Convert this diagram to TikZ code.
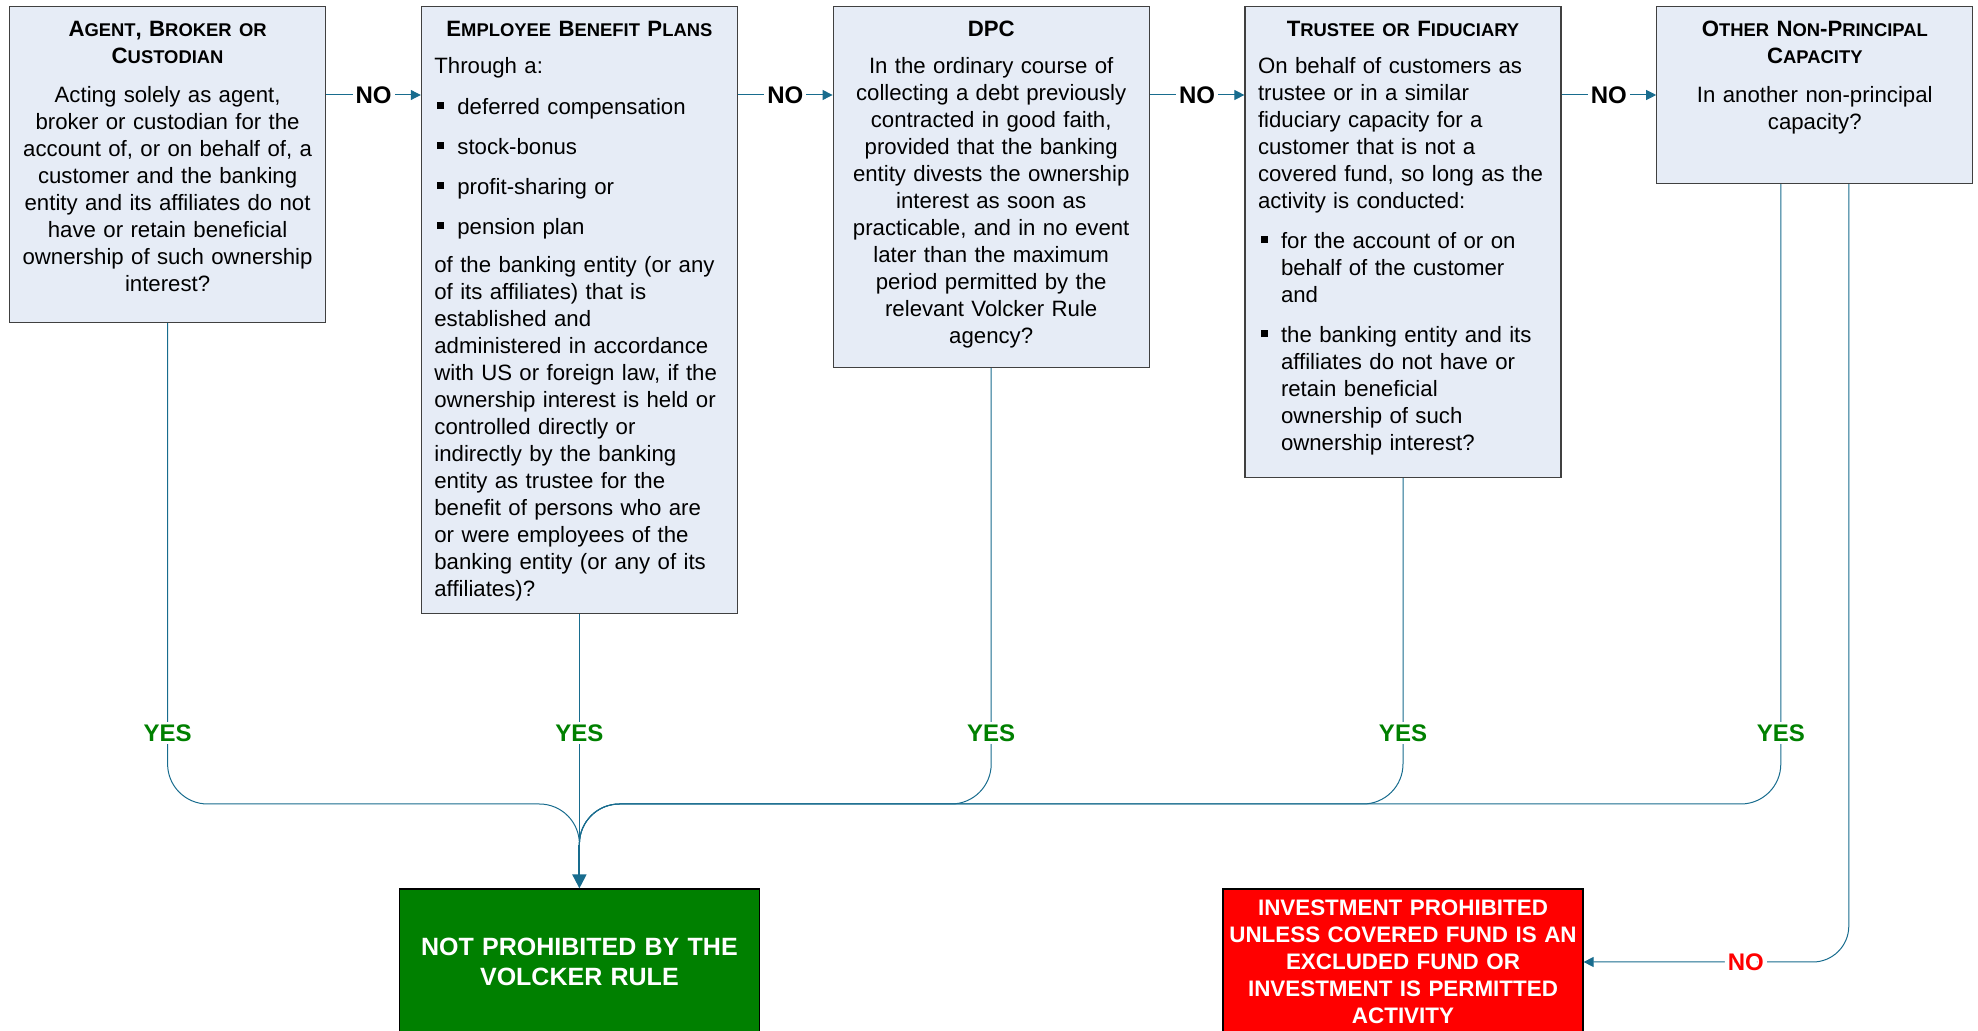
\documentclass[tikz,border=0pt]{standalone}
\usepackage{fontspec}
\setmainfont{Liberation Sans}
\usepackage{tikz}
\usetikzlibrary{positioning,arrows.meta}
\definecolor{conn}{RGB}{24,108,142}
\definecolor{boxfill}{RGB}{230,236,246}
\definecolor{okgreen}{RGB}{0,128,0}
\definecolor{nored}{RGB}{255,0,0}
\newcommand{\sm}[1]{{\fontsize{9.2pt}{13.5pt}\selectfont #1}}
\newcommand{\bul}{\noindent\hangindent=11.5pt\hangafter=1\makebox[11.5pt][l]{\hspace{1.25pt}\rule[2.75pt]{3.5pt}{3.5pt}}}
\tikzstyle{arrow} = [conn, line width=0.5pt, -{Triangle[length=5pt,width=5pt]}]
\tikzstyle{conline} = [conn, line width=0.5pt, rounded corners=20pt]

\begin{document}
\begin{tikzpicture}[node distance=47.3pt]
	\tikzstyle{qbox} = [rectangle, draw=black!75, line width=0.6pt, fill=boxfill, align=center, text width=148pt, inner xsep=5pt, inner ysep=6pt, text height=9pt, font=\fontsize{11.1pt}{13.5pt}\selectfont];
	\tikzstyle{lbox} = [qbox, align=left, text width=145pt, inner xsep=6.5pt];
	\tikzstyle{endbox} = [rectangle, draw=black, line width=0.6pt, text=white, align=center, minimum width=180pt, minimum height=73pt, text width=176pt, inner xsep=2pt, inner ysep=0pt, font=\bfseries\fontsize{11.2pt}{13.5pt}\selectfont];
	\tikzstyle{nolbl} = [fill=white, text=black, inner sep=1.5pt, font=\bfseries\fontsize{12pt}{14pt}\selectfont];
	\tikzstyle{yeslbl} = [nolbl, text=okgreen];
	\useasboundingbox (0,0) rectangle (989pt,-515.5pt);
	\coordinate (yesrow) at (0,-366.5pt);
	\coordinate (endrow) at (0,-481pt);

	% question boxes
	\node (agent) [qbox, text depth=137pt, anchor=north west] at (4.5pt,-3pt) {\textbf{A\sm{GENT}, B\sm{ROKER OR}}\\
		\textbf{C\sm{USTODIAN}}\\[6.2pt]
		Acting solely as agent,\\ broker or custodian for the\\ account of, or on behalf of, a\\ customer and the banking\\ entity and its affiliates do not\\ have or retain beneficial\\ ownership of such ownership\\ interest?};
	\node (ebp) [lbox, text depth=282.5pt, right=of agent.north east, anchor=north west] {{\centering\textbf{E\sm{MPLOYEE} B\sm{ENEFIT} P\sm{LANS}}\par}\vspace{5pt}
		Through a:\\[7pt]
		\bul deferred compensation\\[6.5pt]
		\bul stock-bonus\\[6.5pt]
		\bul profit-sharing or\\[6.5pt]
		\bul pension plan\\[5.5pt]
		of the banking entity (or any\\ of its affiliates) that is\\ established and\\ administered in accordance\\ with US or foreign law, if the\\ ownership interest is held or\\ controlled directly or\\ indirectly by the banking\\ entity as trustee for the\\ benefit of persons who are\\ or were employees of the\\ banking entity (or any of its\\ affiliates)?};
	\node (dpc) [qbox, text depth=159.5pt, right=of ebp.north east, anchor=north west] {\textbf{DPC}\\[5pt]
		In the ordinary course of\\ collecting a debt previously\\ contracted in good faith,\\ provided that the banking\\ entity divests the ownership\\ interest as soon as\\ practicable, and in no event\\ later than the maximum\\ period permitted by the\\ relevant Volcker Rule\\ agency?};
	\node (trustee) [lbox, text depth=214.5pt, right=of dpc.north east, anchor=north west] {{\centering\textbf{T\sm{RUSTEE OR} F\sm{IDUCIARY}}\par}\vspace{5pt}
		On behalf of customers as\\ trustee or in a similar\\ fiduciary capacity for a\\ customer that is not a\\ covered fund, so long as the\\ activity is conducted:\\[6.5pt]
		\bul for the account of or on\newline behalf of the customer\newline and\\[6.5pt]
		\bul the banking entity and its\newline affiliates do not have or\newline retain beneficial\newline ownership of such\newline ownership interest?\par};
	\node (other) [qbox, text depth=67.5pt, right=of trustee.north east, anchor=north west] {\textbf{O\sm{THER} N\sm{ON}-P\sm{RINCIPAL}}\\
		\textbf{C\sm{APACITY}}\\[6.2pt]
		In another non-principal\\ capacity?};

	% outcomes
	\node (notprohib) [endbox, fill=okgreen, font=\bfseries\fontsize{12.5pt}{15pt}\selectfont] at (ebp.south |- endrow) {NOT PROHIBITED BY THE\\ VOLCKER RULE};
	\node (prohib) [endbox, fill=nored] at (trustee.south |- endrow) {INVESTMENT PROHIBITED\\ UNLESS COVERED FUND IS AN\\ EXCLUDED FUND OR\\ INVESTMENT IS PERMITTED\\ ACTIVITY};

	\coordinate (hub) at (ebp.south |- 0,-402pt);
	\coordinate (join) at (ebp.south |- 0,-422.5pt);
	\coordinate (otheryes) at ([xshift=-17pt]other.south);
	\coordinate (otherno) at ([xshift=17pt]other.south);

	% NO chain
	\draw [arrow] ([yshift=-44.5pt]agent.north east) -- node[nolbl] (no1) {NO} ([yshift=-44.5pt]ebp.north west);
	\draw [arrow] ([yshift=-44.5pt]ebp.north east) -- node[nolbl] (no2) {NO} ([yshift=-44.5pt]dpc.north west);
	\draw [arrow] ([yshift=-44.5pt]dpc.north east) -- node[nolbl] (no3) {NO} ([yshift=-44.5pt]trustee.north west);
	\draw [arrow] ([yshift=-44.5pt]trustee.north east) -- node[nolbl] (no4) {NO} ([yshift=-44.5pt]other.north west);

	% YES lines
	\draw [conline] (agent.south) |- (hub) -- (join);
	\draw [conline] (dpc.south) |- (hub) -- (join);
	\draw [conline] (trustee.south) |- (hub) -- (join);
	\draw [conline] (otheryes) |- (hub) -- (join);
	\draw [conn, line width=0.5pt] (ebp.south) -- (join);
	\draw [conn, line width=1pt, -{Triangle[length=7pt,width=7pt]}] (join) -- (notprohib.north);
	\draw [conline, rounded corners=18pt, -{Triangle[length=5pt,width=5pt]}] (otherno) |- node[nolbl, text=nored, pos=0.694] (no5) {NO} (prohib.east);

	\node [yeslbl] (yes1) at (agent.south |- yesrow) {YES};
	\node [yeslbl] (yes2) at (ebp.south |- yesrow) {YES};
	\node [yeslbl] (yes3) at (dpc.south |- yesrow) {YES};
	\node [yeslbl] (yes4) at (trustee.south |- yesrow) {YES};
	\node [yeslbl] (yes5) at (otheryes |- yesrow) {YES};
\end{tikzpicture}
\end{document}
